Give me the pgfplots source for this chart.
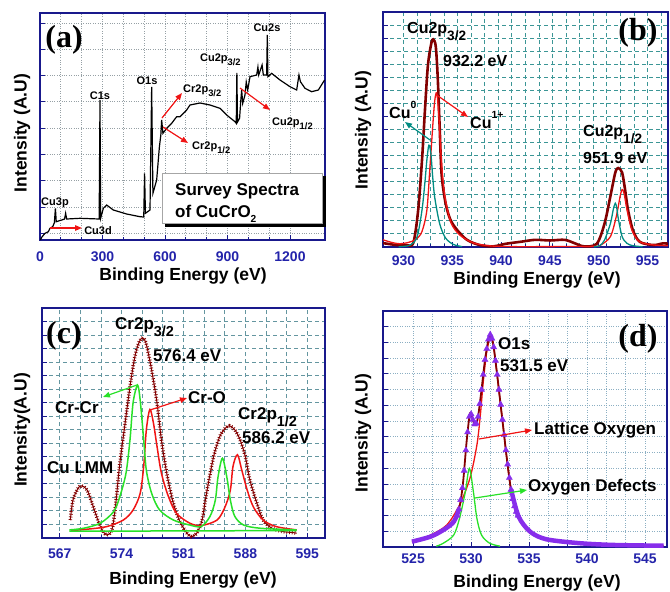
\documentclass[border=0pt]{standalone}
\usepackage{pgfplots}
\pgfplotsset{compat=1.18}
\usepackage{graphicx}
\usepackage{fontspec}
\setmainfont{Liberation Sans}
\newfontfamily\serifb{Liberation Serif}
\usetikzlibrary{arrows.meta}
\definecolor{frame}{RGB}{25,25,140}
\definecolor{tickb}{RGB}{35,35,170}
\definecolor{maroonc}{RGB}{130,0,0}
\definecolor{cured}{RGB}{240,20,20}
\definecolor{tealc}{RGB}{0,140,130}
\definecolor{grn}{RGB}{40,225,40}
\definecolor{purp}{RGB}{135,45,235}
\definecolor{gridA}{RGB}{150,160,165}
\definecolor{gridB}{RGB}{60,150,150}
\definecolor{gridC}{RGB}{100,150,160}
\definecolor{gridD}{RGB}{140,175,195}
\newcommand{\fs}[1]{\fontsize{#1}{#1}\selectfont\bfseries}
\newcommand{\sbs}[1]{\raisebox{-0.45em}{\scalebox{0.85}{#1}}}
\newcommand{\sps}[1]{\raisebox{0.6em}{\scalebox{0.65}{#1}}}
\pgfplotsset{panel/.style={scale only axis, anchor=south west,
  axis line style={frame, line width=1.8pt},
  tick style={frame, line width=0.9pt},
  major tick length=5pt, minor tick length=3pt,
  tick align=inside, tick pos=left,
  xticklabel style={font=\fs{14}, text=tickb},
  yticklabels={},
  /pgf/number format/assume math mode=true,
  /pgf/number format/1000 sep={}}}
\tikzset{arr/.style={line width=1.2pt, -{Triangle[length=7pt,width=5.5pt]}}}
\begin{document}
\begin{tikzpicture}
%%%%%%%%%%%%%%%% (a)
\begin{axis}[panel, at={(40pt,-240pt)}, width=285pt, height=227pt,
  xmin=0, xmax=1368, ymin=0, ymax=227,
  xtick={0,300,...,1200}, minor x tick num=2,
  ytick={6.6,32.9,...,220}, yticklabels={},
  grid=both, grid style={gridA, dotted, line width=0.9pt},
  xticklabel style={yshift=-8pt}]
\addplot[black, line width=1.2pt] coordinates {
(2,0) (8,2.7) (24,6.7) (40,8.3) (48,11.7) (61,13.3) (69,17.3) (74,31.7) (78,18.3)
(104,20) (118,21) (123,26.7) (128,21) (192,21.7) (284,21) (288,140) (291,21.7)
(304,31.7) (320,35) (352,30) (416,26) (480,23.3) (498,23) (502,66.7) (506,26.7)
(528,30) (536,153) (542,46.7) (560,60) (573,93) (580,105) (584,120) (590,106.7)
(608,111.7) (632,116.7) (656,123.3) (672,123.3) (704,130) (720,135) (768,137)
(816,135) (864,131.7) (896,125) (936,118.3) (942,116.7) (945,167) (948,118)
(958,121.7) (964,140) (968,150) (973,136.7) (984,145) (990,158) (997,150)
(1008,163.3) (1040,165) (1046,173) (1050,165) (1066,175) (1072,165) (1088,165)
(1091,205) (1094,163.3) (1112,166.7) (1152,160) (1200,153.3) (1232,150)
(1243,165) (1250,158.3) (1272,151.7) (1304,148.3) (1336,150) (1366,160)};
\end{axis}
% annotations (a)
\draw[black, fill=black] (165.5pt,-176.5pt) rectangle (325.5pt,-226.5pt);
\draw[gray!70, fill=white, line width=0.6pt] (162pt,-173pt) rectangle (322pt,-223pt);
\node[anchor=base west, inner sep=0] at (175pt,-195pt) {\fs{17}Survey Spectra};
\node[anchor=base west, inner sep=0] at (175pt,-217pt) {\fs{17}of CuCrO\raisebox{-0.3em}{\scalebox{0.6}{2}}};
\node[anchor=base, inner sep=0] at (64pt,-47pt) {\serifb\fontsize{32}{32}\selectfont\bfseries (a)};
\node[anchor=base, inner sep=0] at (100pt,-99pt) {\fs{11}C1s};
\node[anchor=base, inner sep=0] at (147pt,-84pt) {\fs{11}O1s};
\node[anchor=base, inner sep=0] at (55pt,-205pt) {\fs{11}Cu3p};
\node[anchor=base, inner sep=0] at (98pt,-234pt) {\fs{11}Cu3d};
\node[anchor=base west, inner sep=0] at (183pt,-92pt) {\fs{11}Cr2p\sbs{3/2}};
\node[anchor=base west, inner sep=0] at (192pt,-149pt) {\fs{11}Cr2p\sbs{1/2}};
\node[anchor=base west, inner sep=0] at (200pt,-61pt) {\fs{11}Cu2p\sbs{3/2}};
\node[anchor=base, inner sep=0] at (267pt,-31pt) {\fs{11}Cu2s};
\node[anchor=base west, inner sep=0] at (272pt,-125pt) {\fs{11}Cu2p\sbs{1/2}};
\draw[arr, cured] (50pt,-228pt) -- (82pt,-228pt);
\draw[arr, cured] (162pt,-118pt) -- (182pt,-93pt);
\draw[arr, cured] (163pt,-127pt) -- (188pt,-143pt);
\draw[arr, cured] (240pt,-88pt) -- (270pt,-110pt);
\node[anchor=center, rotate=90] at (22pt,-133pt) {\fs{17.5}Intensity (A.U)};
\node[anchor=center] at (183pt,-276pt) {\fs{17.5}Binding Energy (eV)};
%%%%%%%%%%%%%%%% (b)
\begin{axis}[panel, at={(383pt,-247pt)}, width=285pt, height=235pt,
  xmin=927.9, xmax=957.1, ymin=0, ymax=18,
  xtick={930,935,...,955}, minor xtick={930,931.3889,...,957},
  ytick={0,1,...,18}, yticklabels={},
  xmajorgrids=false, xminorgrids=true, ymajorgrids=true,
  grid style={gridB, dash pattern=on 4pt off 3pt, line width=0.9pt},
  xticklabel style={yshift=-5pt}]
\addplot[maroonc, line width=2.6pt, smooth, tension=0.5] coordinates {
(927.9,0.3) (929.3,0.15) (930.3,0.15) (931.0,0.3) (931.5,2.8) (931.9,6.7) (932.2,10.5)
(932.5,13.9) (932.85,15.6) (933.05,15.9) (933.3,15.4) (933.5,13.1) (933.7,9.3) (933.9,5.6)
(934.3,3.4) (934.8,2.1) (935.5,1.3) (936.5,0.55) (937.8,0.15) (939.2,0.05) (940.5,0.25)
(942,0.4) (943.5,0.55) (945,0.5) (946.5,0.55) (947.5,0.3) (948.5,0.05) (949.8,0.25)
(950.6,1.8) (951.2,3.9) (951.7,5.7) (952.0,6.05) (952.4,5.7) (952.7,4.4) (953.0,2.85)
(953.5,1.3) (954.2,0.4) (955.6,0.15) (956.6,0.28) (957.1,0.25)};
\addplot[cured, line width=1.3pt, smooth, tension=0.5] coordinates {
(927.9,0.55) (928.8,0.35) (929.6,0.25) (930.5,0.35) (931.3,0.6) (931.9,1.2) (932.4,2.85)
(932.7,6.0) (933.0,9.3) (933.2,11.2) (933.4,11.8) (933.6,10.3) (933.8,7.6) (934.0,5.5)
(934.3,3.6) (934.9,1.8) (935.8,0.9) (937.2,0.3) (939,0.08) (941,0.03) (945,0.03)
(949.5,0.05) (950.2,0.15) (951.2,0.8) (951.8,2.33) (952.2,3.9) (952.4,4.4) (952.6,4.1)
(952.9,2.85) (953.4,1.3) (954.2,0.4) (955.7,0.15) (957.1,0.1)};
\addplot[tealc, line width=1.3pt, smooth, tension=0.5] coordinates {
(929.5,0.02) (930.7,0.15) (931.4,0.8) (931.9,2.85) (932.2,5.0) (932.4,6.7) (932.6,7.8)
(932.8,7.2) (933.0,5.3) (933.2,3.8) (933.7,1.8) (934.3,0.7) (935.1,0.2) (936.0,0.03)};
\addplot[tealc, line width=1.3pt, smooth, tension=0.5] coordinates {
(949.5,0.02) (950.1,0.1) (950.6,0.54) (951.2,1.8) (951.5,2.9) (951.7,3.35) (951.85,3.0)
(952.0,2.2) (952.4,0.8) (952.9,0.28) (953.5,0.1) (954.5,0.02)};
\end{axis}
\node[anchor=base west, inner sep=0] at (407pt,-33pt) {\fs{16}Cu2p\sbs{3/2}};
\node[anchor=base west, inner sep=0] at (443pt,-66pt) {\fs{16}932.2 eV};
\node[anchor=base west, inner sep=0] at (389pt,-118pt) {\fs{16}Cu\sps{0}};
\node[anchor=base west, inner sep=0] at (470pt,-128pt) {\fs{16}Cu\sps{1+}};
\node[anchor=base west, inner sep=0] at (583pt,-136pt) {\fs{16}Cu2p\sbs{1/2}};
\node[anchor=base west, inner sep=0] at (583pt,-163pt) {\fs{16}951.9 eV};
\node[anchor=base, inner sep=0] at (638pt,-40pt) {\serifb\fontsize{32}{32}\selectfont\bfseries (b)};
\draw[arr, tealc] (430pt,-140pt) -- (405pt,-122pt);
\draw[arr, cured] (436.7pt,-95pt) -- (468pt,-117pt);
\node[anchor=center, rotate=90] at (363pt,-130pt) {\fs{17.5}Intensity (A.U)};
\node[anchor=center] at (537pt,-280pt) {\fs{17.5}Binding Energy (eV)};
%%%%%%%%%%%%%%%% (c)
\begin{axis}[panel, at={(42pt,-538pt)}, width=283pt, height=230pt,
  xmin=565, xmax=597, ymin=0, ymax=17,
  xtick={567,574,...,595}, minor x tick num=2,
  ytick={0,1,...,17}, yticklabels={},
  grid=both, grid style={gridC, dash pattern=on 4pt off 3pt, line width=0.9pt},
  xticklabel style={yshift=-7pt}]
\addplot[maroonc, line width=1pt, smooth, tension=0.5] coordinates {
(568.2,1.33) (568.5,2.8) (569.1,3.7) (569.5,3.85) (570.1,3.55) (570.8,2.3) (571.6,0.84)
(572.3,0.22) (572.9,0.6) (573.3,2.3) (573.8,5.5) (574.4,8.5) (574.95,11.2) (575.5,13.4)
(576.0,14.5) (576.4,14.8) (576.8,14.3) (577.4,12.4) (578.0,10.0) (578.5,7.26) (579.1,4.8)
(579.85,2.57) (580.6,1.2) (581.4,0.35) (581.9,0.1) (582.5,0.35) (583.1,1.33) (583.6,3.3)
(584.4,6.0) (585.1,7.5) (585.7,8.1) (586.2,8.3) (586.8,8.0) (587.4,7.26) (588.0,6.0)
(588.5,4.3) (589.3,2.57) (590.0,1.33) (591.0,0.72) (592.3,0.47) (593.4,0.4) (593.8,0.35)};
\addplot[maroonc, line width=3.6pt, dash pattern=on 0.8pt off 1.9pt, smooth, tension=0.5] coordinates {
(568.2,1.33) (568.5,2.8) (569.1,3.7) (569.5,3.85) (570.1,3.55) (570.8,2.3) (571.6,0.84)
(572.3,0.22) (572.9,0.6) (573.3,2.3) (573.8,5.5) (574.4,8.5) (574.95,11.2) (575.5,13.4)
(576.0,14.5) (576.4,14.8) (576.8,14.3) (577.4,12.4) (578.0,10.0) (578.5,7.26) (579.1,4.8)
(579.85,2.57) (580.6,1.2) (581.4,0.35) (581.9,0.1) (582.5,0.35) (583.1,1.33) (583.6,3.3)
(584.4,6.0) (585.1,7.5) (585.7,8.1) (586.2,8.3) (586.8,8.0) (587.4,7.26) (588.0,6.0)
(588.5,4.3) (589.3,2.57) (590.0,1.33) (591.0,0.72) (592.3,0.47) (593.4,0.4) (593.8,0.35)};
\addplot[cured, line width=1.5pt, smooth, tension=0.5] coordinates {
(568.3,0.55) (570.1,0.65) (572.3,0.84) (574.2,1.33) (575.3,2.07) (576.1,3.3) (576.5,5.3)
(576.8,8.0) (577.2,9.5) (577.6,8.5) (578.0,6.8) (578.5,4.8) (579.3,3.06) (580.2,1.83)
(581.7,1.1) (583.0,0.92) (584.8,1.33) (585.7,2.3) (586.3,3.55) (586.6,5.3) (587.1,6.15)
(587.6,5.0) (588.2,3.55) (588.9,2.3) (590.0,1.33) (591.5,0.84) (593.8,0.6)};
\addplot[grn, line width=1.5pt] coordinates {(568.1,0.5) (593.8,0.55)};
\addplot[grn, line width=1.5pt, smooth, tension=0.5] coordinates {
(568.1,0.6) (569.7,0.72) (571.6,1.1) (573.1,1.95) (573.8,3.06) (574.5,4.8) (574.95,7.26)
(575.3,10.0) (575.8,11.3) (576.1,10.2) (576.5,7.26) (576.8,5.0) (577.4,3.3) (578.3,2.07)
(579.85,1.33) (581.7,0.96) (583.0,0.85) (584.0,1.6) (584.6,2.8) (584.9,4.5) (585.4,5.9)
(585.9,4.5) (586.3,2.8) (586.8,1.6) (587.8,0.96) (589.7,0.72) (593.8,0.6)};
\end{axis}
\node[anchor=base, inner sep=0] at (64pt,-343pt) {\serifb\fontsize{32}{32}\selectfont\bfseries (c)};
\node[anchor=base west, inner sep=0] at (115pt,-329pt) {\fs{17}Cr2p\sbs{3/2}};
\node[anchor=base west, inner sep=0] at (153pt,-361pt) {\fs{17}576.4 eV};
\node[anchor=base west, inner sep=0] at (55pt,-413pt) {\fs{17}Cr-Cr};
\node[anchor=base west, inner sep=0] at (188pt,-403pt) {\fs{17}Cr-O};
\node[anchor=base west, inner sep=0] at (238pt,-419pt) {\fs{17}Cr2p\sbs{1/2}};
\node[anchor=base west, inner sep=0] at (242pt,-443pt) {\fs{17}586.2 eV};
\node[anchor=base west, inner sep=0] at (47pt,-473pt) {\fs{17}Cu LMM};
\draw[arr, grn] (137pt,-385pt) -- (103pt,-397pt);
\draw[arr, cured] (150pt,-410pt) -- (187pt,-398pt);
\node[anchor=center, rotate=90] at (22pt,-430pt) {\fs{17.5}Intensity(A.U)};
\node[anchor=center] at (193pt,-580pt) {\fs{17.5}Binding Energy (eV)};
%%%%%%%%%%%%%%%% (d)
\begin{axis}[panel, at={(383pt,-547pt)}, width=284pt, height=236pt,
  xmin=522.4, xmax=546.9, ymin=0, ymax=15,
  xtick={525,530,...,545}, minor x tick num=2,
  ytick={0,1,...,15}, yticklabels={},
  grid=both, grid style={gridD, dotted, line width=0.9pt},
  xticklabel style={yshift=-3pt}]
\addplot[cured, line width=1.3pt, smooth, tension=0.5] coordinates {
(524.9,0.3) (526.5,0.76) (527.9,1.4) (529.0,2.67) (529.9,4.37) (530.5,6.48) (530.8,8.4)
(531.05,10.5) (531.35,12.4) (531.65,13.3) (531.9,12.9) (532.2,11.2) (532.5,9.3) (532.8,7.4)
(533.1,5.5) (533.5,3.4) (534.1,1.9) (535.1,0.95) (536.5,0.45)};
\addplot[grn, line width=1.3pt, smooth, tension=0.5] coordinates {
(527.0,0.05) (527.6,0.24) (528.5,0.76) (529.0,1.82) (529.5,3.5) (529.85,5.0) (530.2,3.5)
(530.5,1.82) (530.9,0.76) (531.6,0.24) (532.5,0.05)};
\addplot[maroonc, line width=1.8pt, smooth, tension=0.5] coordinates {
(524.9,0.34) (526.5,0.66) (527.6,1.08) (528.5,1.6) (529.0,2.56) (529.3,4.05) (529.6,6.6)
(529.85,8.28) (529.97,8.5) (530.2,7.97) (530.4,7.76) (530.6,8.28) (530.9,10.0) (531.2,11.9)
(531.5,13.2) (531.65,13.5) (531.9,12.95) (532.2,11.25) (532.5,9.35) (532.8,7.44) (533.1,5.53)
(533.5,3.41) (534.1,1.93) (535.1,0.97) (536.5,0.49) (539.4,0.24) (542.3,0.13) (546.6,0.08)};
\addplot[purp, line width=4.5pt, smooth, tension=0.5] coordinates {
(524.9,0.34) (526.5,0.66) (527.6,1.08) (528.5,1.6) (528.95,2.4)};
\addplot[purp, line width=4.5pt, smooth, tension=0.5] coordinates {
(533.45,3.65) (534.1,1.93) (535.1,0.97) (536.5,0.49) (539.4,0.24) (542.3,0.13) (546.6,0.08)};
\addplot[purp, only marks, mark=triangle*, mark size=3.5pt] coordinates {
(528.8,2.0) (528.95,2.4) (529.1,3.0) (529.25,3.75) (529.4,4.85) (529.55,6.15) (529.7,7.3)
(529.85,8.28) (530.0,8.45) (530.15,8.1) (530.3,7.8) (530.45,7.85) (530.6,8.28) (530.75,9.1)
(530.9,10.0) (531.05,10.95) (531.2,11.9) (531.35,12.6) (531.5,13.2) (531.65,13.5) (531.8,13.25)
(531.95,12.7) (532.1,11.85) (532.25,10.95) (532.4,10.0) (532.55,9.05) (532.7,8.1) (532.85,7.12)
(533.0,6.15) (533.15,5.25) (533.3,4.4) (533.45,3.65) (533.6,3.05) (533.75,2.6) (533.9,2.25)
(534.05,2.0)};
\end{axis}
\node[anchor=base west, inner sep=0] at (498pt,-349pt) {\fs{17}O1s};
\node[anchor=base west, inner sep=0] at (500pt,-371pt) {\fs{17}531.5 eV};
\node[anchor=base west, inner sep=0] at (534pt,-434pt) {\fs{17}Lattice Oxygen};
\node[anchor=base west, inner sep=0] at (528pt,-491pt) {\fs{17}Oxygen Defects};
\node[anchor=base, inner sep=0] at (638pt,-346pt) {\serifb\fontsize{32}{32}\selectfont\bfseries (d)};
\draw[arr, cured] (479pt,-439pt) -- (532pt,-430pt);
\draw[arr, grn] (475pt,-498pt) -- (527pt,-490pt);
\node[anchor=center, rotate=90] at (363pt,-433pt) {\fs{17.5}Intensity (A.U)};
\node[anchor=center] at (537pt,-583pt) {\fs{17.5}Binding Energy (eV)};
\pgfresetboundingbox
\path[use as bounding box] (0pt,0pt) rectangle (670pt,-592pt);
\end{tikzpicture}
\end{document}
